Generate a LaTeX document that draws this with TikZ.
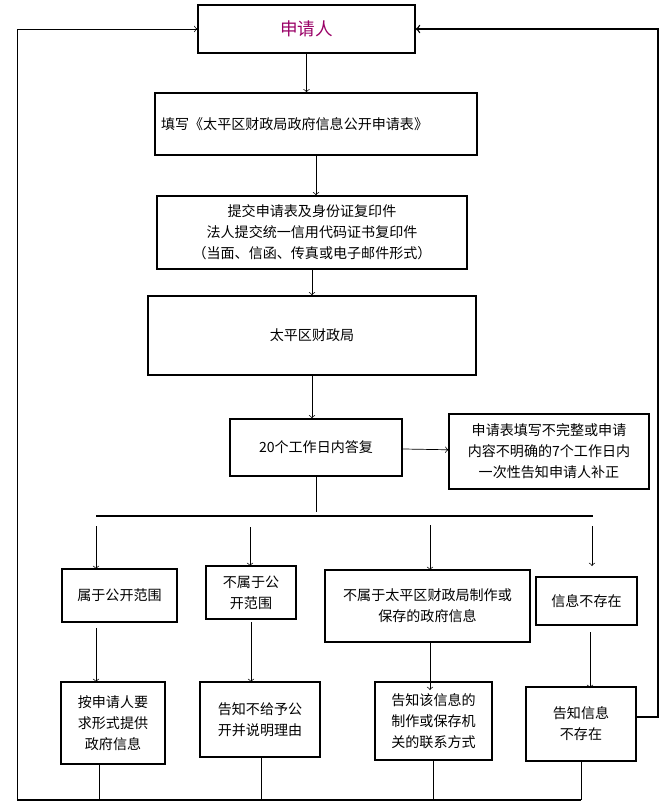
\documentclass[tikz,border=0pt]{standalone}
\usepackage{fontspec}
\setmainfont{Noto Sans CJK SC}
\usetikzlibrary{positioning}
\tikzset{>=to}
\tikzset{box/.style={draw,thick,minimum width=#1,inner sep=1pt,align=center,font=\fontsize{8}{12}\selectfont}}

\begin{document}
\begin{tikzpicture}[x=0.02cm,y=-0.02cm]
    \useasboundingbox (0,0) rectangle (667,807);

    \node[box=4.34cm,minimum height=0.96cm,font=\fontsize{10}{12}\selectfont,text=red!60!blue] (app) at (306.5,29) {申请人};
    \node[box=6.44cm,minimum height=1.24cm,text width=6.2cm,align=left] (fill) at (316,124) {填写《太平区财政局政府信息公开申请表》};
    \node[box=6.2cm,minimum height=1.46cm] (sub) at (312,232.5) {提交申请表及身份证复印件\\法人提交统一信用代码证书复印件\\（当面、信函、传真或电子邮件形式）};
    \node[box=6.56cm,minimum height=1.58cm] (bur) at (312,335.5) {太平区财政局};
    \node[box=3.44cm,minimum height=1.14cm] (days) at (316,447.5) {20个工作日内答复};
    \node[box=4cm,minimum height=1.5cm] (inc) at (549,451.5) {申请表填写不完整或申请\\内容不明确的7个工作日内\\一次性告知申请人补正};

    \node[box=2.3cm,minimum height=1.06cm] (b1) at (119.5,595.5) {属于公开范围};
    \node[box=1.8cm,minimum height=1.06cm] (b2) at (251,592.5) {不属于公\\开范围};
    \node[box=4.1cm,minimum height=1.44cm] (b3) at (427.5,606) {不属于太平区财政局制作或\\保存的政府信息};
    \node[box=2.02cm,minimum height=0.96cm] (b4) at (586.5,601) {信息不存在};

    \node[box=2.08cm,minimum height=1.64cm] (c1) at (113,723) {按申请人要\\求形式提供\\政府信息};
    \node[box=2.4cm,minimum height=1.5cm] (c2) at (260,719.5) {告知不给予公\\开并说明理由};
    \node[box=2.34cm,minimum height=1.56cm] (c3) at (433.5,721) {告知该信息的\\制作或保存机\\关的联系方式};
    \node[box=2.2cm,minimum height=1.48cm] (c4) at (581,724) {告知信息\\不存在};

    \coordinate (split) at (316,512);
    \coordinate (bl) at (96,516);
    \coordinate (br) at (593,516);
    \coordinate (lo) at (17,800);
    \coordinate (ro) at (658,717);

    \draw[->] (app) -- (app.south |- fill.north);
    \draw[->] (fill) -- (fill.south |- sub.north);
    \draw[->] (sub.south) -- (sub.south |- bur.north);
    \draw[->] (bur) -- (bur.south |- days.north);
    \draw[->] (days) -- (inc);
    \draw (days) -- (split);
    \draw[thick] (bl) -- (br);

    \draw[->] (96,526) -- (96,569);
    \draw[->] (250,527) -- (250,566);
    \draw[->] (430,525) -- (430,570);
    \draw[->] (592,526) -- (592,566);

    \draw[->] (96,628) -- (96,682);
    \draw[->] (251,622) -- (251,682);
    \draw[->] (430,642) -- (430,690);
    \draw[->] (590,632) -- (590,688);

    \draw[thick] (lo) -- (lo -| c4.south);
    \draw (99,764) -- (99,800);
    \draw (261,757) -- (261,800);
    \draw (433,760) -- (433,800);
    \draw (c4.south) -- (c4.south |- lo);
    \draw[->] (lo) -- (lo |- app.west) -- (app.west);
    \draw[thick,->] (c4.east |- ro) -- (ro) -- (ro |- app.east) -- (app.east);
\end{tikzpicture}
\end{document}
